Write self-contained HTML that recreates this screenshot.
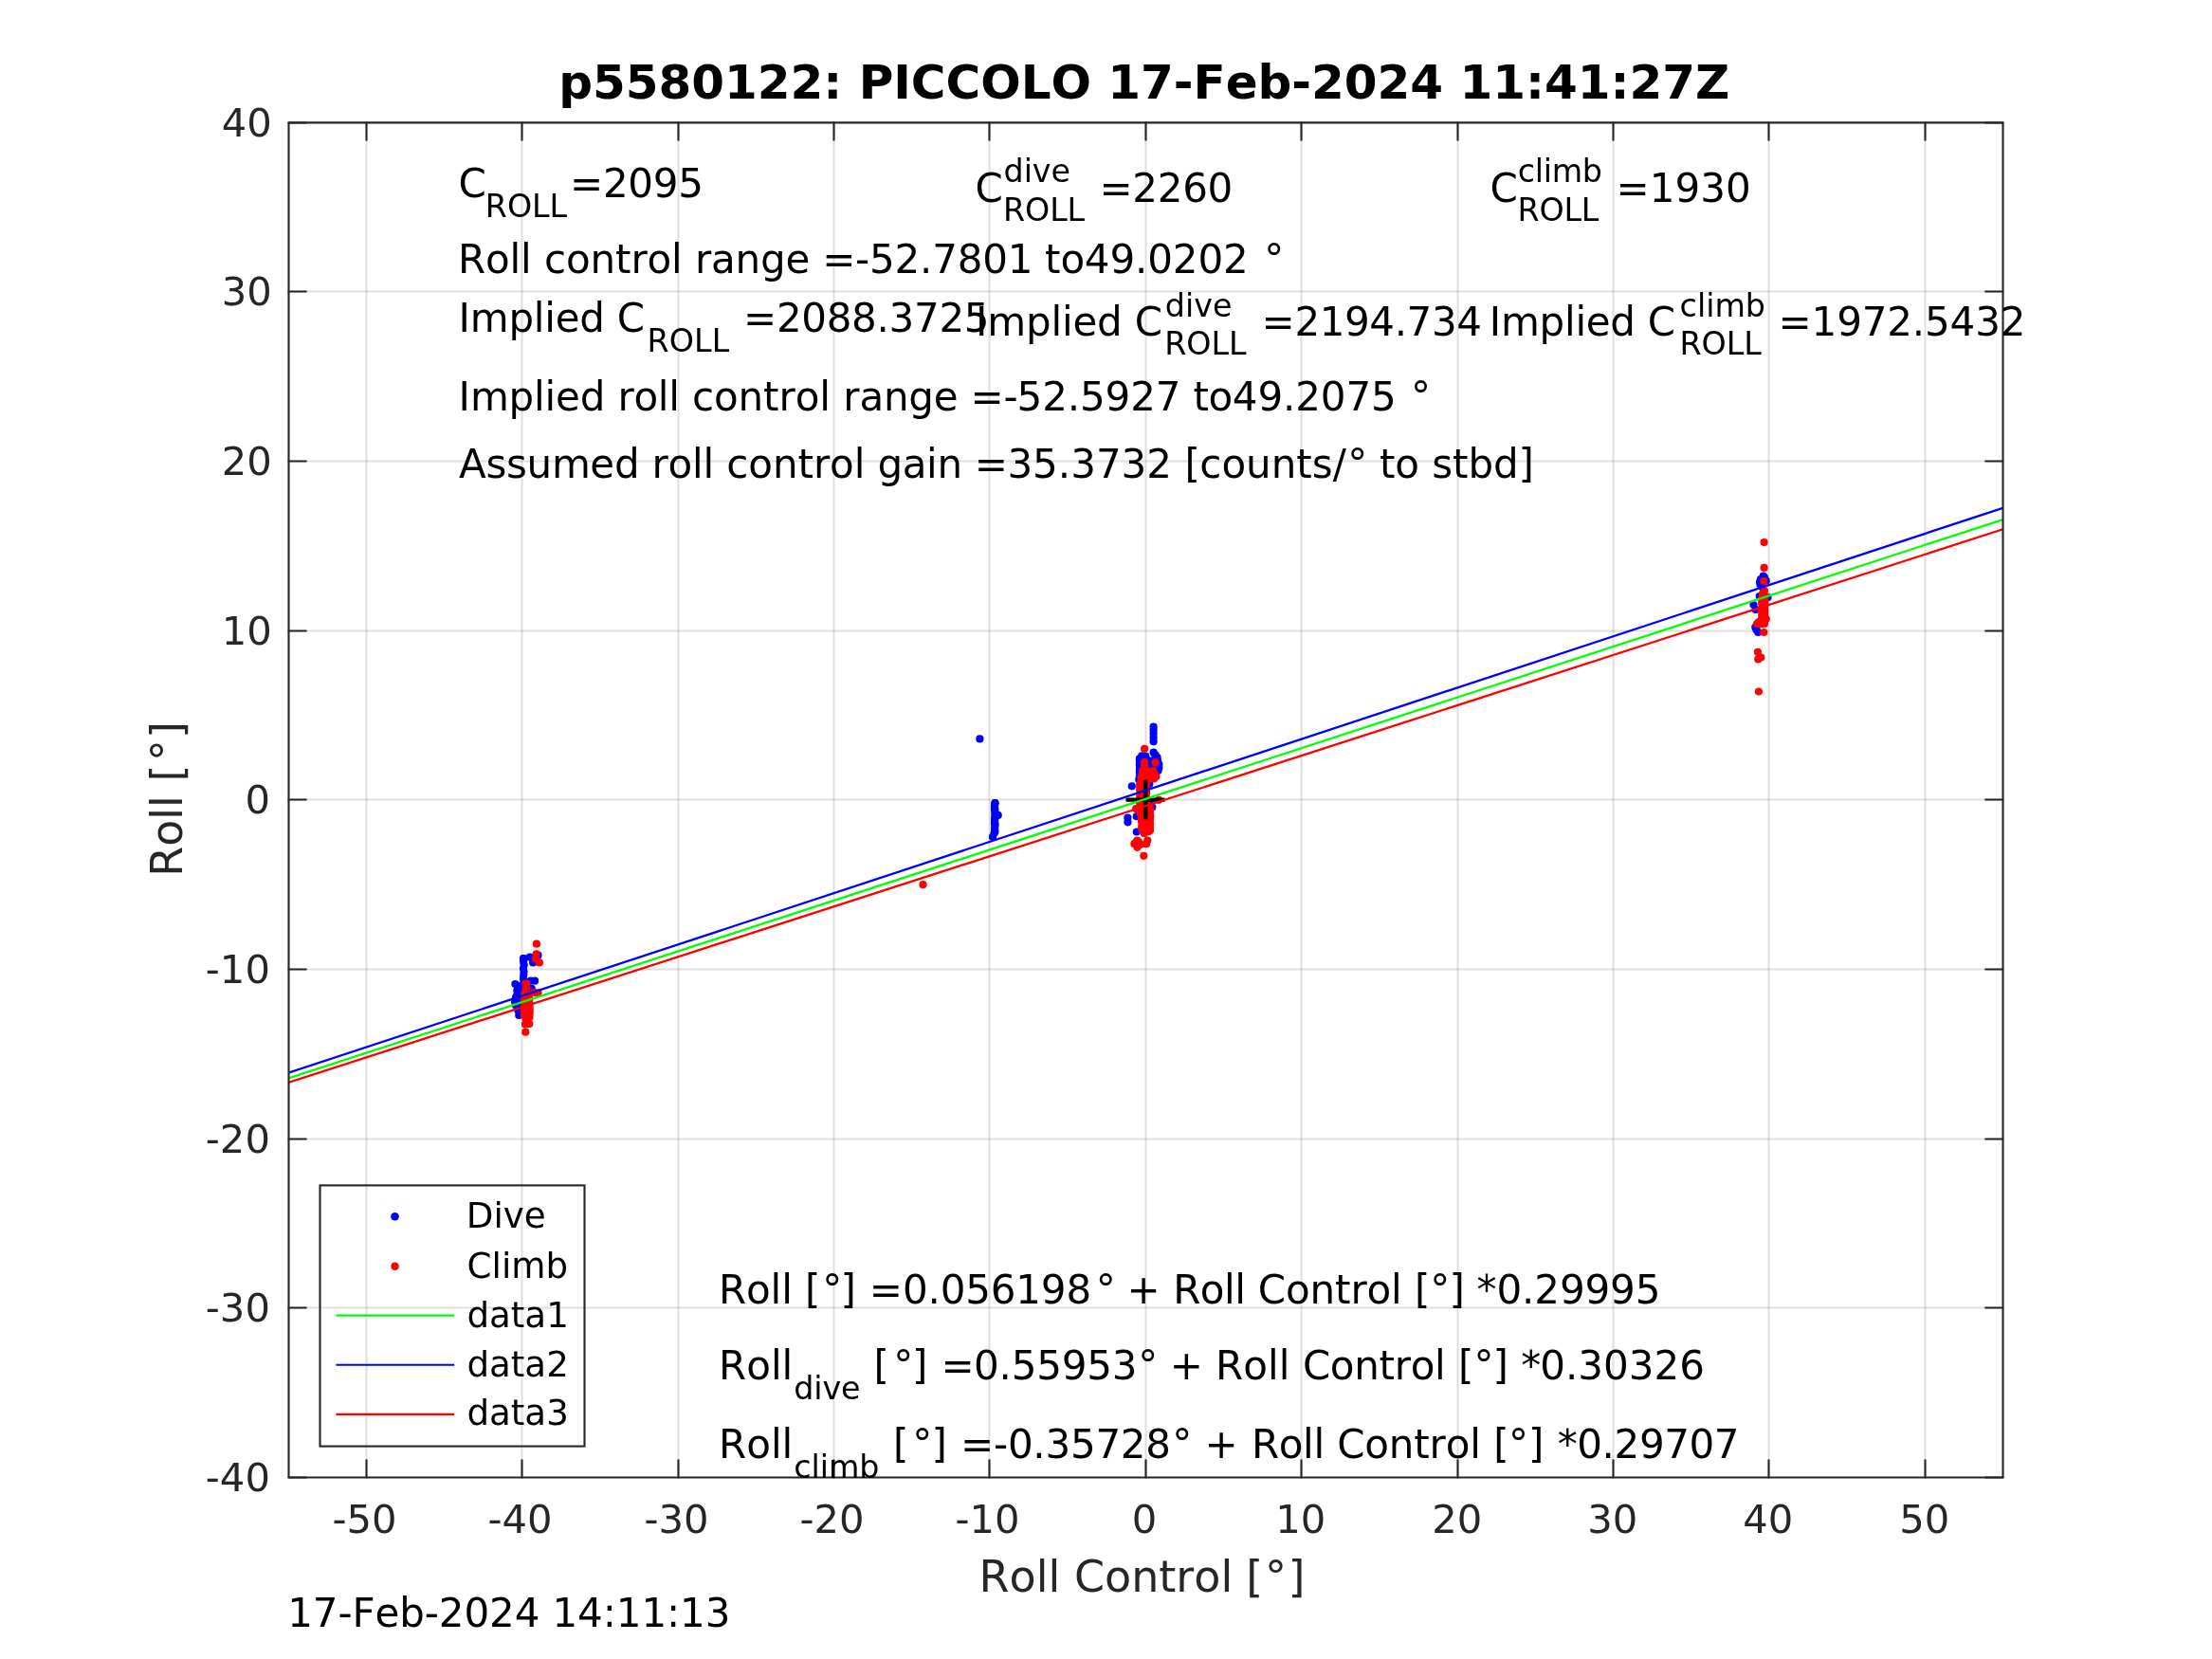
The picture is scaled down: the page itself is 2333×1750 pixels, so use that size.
<!DOCTYPE html>
<html lang="en"><head><meta charset="utf-8"><title>p5580122: PICCOLO roll regression</title>
<style>html,body{margin:0;padding:0;background:#fff}svg{display:block;will-change:transform}text{font-family:"DejaVu Sans","Liberation Sans",sans-serif;white-space:pre;font-kerning:none;font-variant-ligatures:none}</style>
</head><body>
<svg width="2333" height="1750" viewBox="0 0 2333 1750">
<rect width="2333" height="1750" fill="#fff"/>
<defs><clipPath id="ax"><rect x="304.5" y="129.4" width="1808.0" height="1429.1"/></clipPath></defs>
<g stroke="#262626" stroke-opacity="0.15" stroke-width="2.1" fill="none">
<line x1="386.5" y1="129.4" x2="386.5" y2="1558.5"/>
<line x1="550.5" y1="129.4" x2="550.5" y2="1558.5"/>
<line x1="715.5" y1="129.4" x2="715.5" y2="1558.5"/>
<line x1="879.5" y1="129.4" x2="879.5" y2="1558.5"/>
<line x1="1043.5" y1="129.4" x2="1043.5" y2="1558.5"/>
<line x1="1208.5" y1="129.4" x2="1208.5" y2="1558.5"/>
<line x1="1372.5" y1="129.4" x2="1372.5" y2="1558.5"/>
<line x1="1537.5" y1="129.4" x2="1537.5" y2="1558.5"/>
<line x1="1701.5" y1="129.4" x2="1701.5" y2="1558.5"/>
<line x1="1865.5" y1="129.4" x2="1865.5" y2="1558.5"/>
<line x1="2030.5" y1="129.4" x2="2030.5" y2="1558.5"/>
<line x1="304.5" y1="1379.5" x2="2112.5" y2="1379.5"/>
<line x1="304.5" y1="1201.5" x2="2112.5" y2="1201.5"/>
<line x1="304.5" y1="1022.5" x2="2112.5" y2="1022.5"/>
<line x1="304.5" y1="843.5" x2="2112.5" y2="843.5"/>
<line x1="304.5" y1="665.5" x2="2112.5" y2="665.5"/>
<line x1="304.5" y1="486.5" x2="2112.5" y2="486.5"/>
<line x1="304.5" y1="307.5" x2="2112.5" y2="307.5"/>
</g>
<g clip-path="url(#ax)">
<g fill="#0000ff">
<circle cx="552.0" cy="1011.0" r="4.1"/>
<circle cx="558.8" cy="1009.7" r="4.1"/>
<circle cx="567.5" cy="1007.7" r="4.1"/>
<circle cx="562.2" cy="1015.4" r="4.1"/>
<circle cx="564.1" cy="1034.7" r="4.1"/>
<circle cx="559.8" cy="1034.7" r="4.1"/>
<circle cx="543.4" cy="1038.1" r="4.1"/>
<circle cx="545.3" cy="1044.9" r="4.1"/>
<circle cx="560.7" cy="1042.9" r="4.1"/>
<circle cx="547.3" cy="1070.9" r="4.1"/>
<circle cx="546.5" cy="1066.0" r="4.1"/>
<circle cx="552.3" cy="1011.0" r="4.1"/>
<circle cx="552.1" cy="1014.5" r="4.1"/>
<circle cx="552.7" cy="1018.0" r="4.1"/>
<circle cx="552.0" cy="1021.5" r="4.1"/>
<circle cx="552.5" cy="1025.0" r="4.1"/>
<circle cx="552.3" cy="1028.5" r="4.1"/>
<circle cx="552.0" cy="1032.0" r="4.1"/>
<circle cx="552.5" cy="1035.5" r="4.1"/>
<circle cx="543.7" cy="1057.2" r="4.1"/>
<circle cx="543.9" cy="1053.1" r="4.1"/>
<circle cx="546.0" cy="1061.9" r="4.1"/>
<circle cx="544.2" cy="1054.7" r="4.1"/>
<circle cx="547.3" cy="1063.4" r="4.1"/>
<circle cx="547.0" cy="1056.8" r="4.1"/>
<circle cx="549.4" cy="1052.6" r="4.1"/>
<circle cx="548.7" cy="1055.5" r="4.1"/>
<circle cx="544.4" cy="1053.4" r="4.1"/>
<circle cx="545.4" cy="1061.8" r="4.1"/>
<circle cx="544.6" cy="1059.0" r="4.1"/>
<circle cx="547.3" cy="1056.5" r="4.1"/>
<circle cx="546.8" cy="1052.8" r="4.1"/>
<circle cx="543.9" cy="1054.5" r="4.1"/>
<circle cx="547.6" cy="1057.1" r="4.1"/>
<circle cx="545.4" cy="1059.0" r="4.1"/>
<circle cx="546.2" cy="1055.6" r="4.1"/>
<circle cx="548.3" cy="1060.4" r="4.1"/>
<circle cx="545.0" cy="1058.9" r="4.1"/>
<circle cx="546.7" cy="1062.5" r="4.1"/>
<circle cx="547.9" cy="1055.5" r="4.1"/>
<circle cx="549.4" cy="1053.4" r="4.1"/>
<circle cx="546.0" cy="1061.1" r="4.1"/>
<circle cx="544.4" cy="1057.9" r="4.1"/>
<circle cx="543.7" cy="1060.0" r="4.1"/>
<circle cx="543.2" cy="1056.4" r="4.1"/>
<circle cx="544.5" cy="1051.0" r="4.1"/>
<circle cx="546.0" cy="1061.0" r="4.1"/>
<circle cx="549.0" cy="1047.0" r="4.1"/>
<circle cx="548.0" cy="1040.0" r="4.1"/>
<circle cx="1033.4" cy="779.4" r="4.1"/>
<circle cx="1049.5" cy="847.2" r="4.1"/>
<circle cx="1048.9" cy="853.8" r="4.1"/>
<circle cx="1052.7" cy="859.9" r="4.1"/>
<circle cx="1049.1" cy="863.9" r="4.1"/>
<circle cx="1049.5" cy="869.0" r="4.1"/>
<circle cx="1049.1" cy="875.9" r="4.1"/>
<circle cx="1048.6" cy="879.1" r="4.1"/>
<circle cx="1047.0" cy="882.9" r="4.1"/>
<circle cx="1049.4" cy="847.2" r="4.1"/>
<circle cx="1049.0" cy="850.2" r="4.1"/>
<circle cx="1049.3" cy="853.2" r="4.1"/>
<circle cx="1049.4" cy="856.2" r="4.1"/>
<circle cx="1049.4" cy="859.2" r="4.1"/>
<circle cx="1049.4" cy="862.2" r="4.1"/>
<circle cx="1049.2" cy="865.2" r="4.1"/>
<circle cx="1049.0" cy="868.2" r="4.1"/>
<circle cx="1049.4" cy="871.2" r="4.1"/>
<circle cx="1049.1" cy="874.2" r="4.1"/>
<circle cx="1049.4" cy="877.2" r="4.1"/>
<circle cx="1216.6" cy="766.5" r="4.1"/>
<circle cx="1216.6" cy="773.8" r="4.1"/>
<circle cx="1216.6" cy="778.0" r="4.1"/>
<circle cx="1216.6" cy="782.2" r="4.1"/>
<circle cx="1216.6" cy="793.7" r="4.1"/>
<circle cx="1220.6" cy="799.1" r="4.1"/>
<circle cx="1222.4" cy="806.3" r="4.1"/>
<circle cx="1222.4" cy="810.0" r="4.1"/>
<circle cx="1201.9" cy="800.3" r="4.1"/>
<circle cx="1201.9" cy="807.5" r="4.1"/>
<circle cx="1201.9" cy="814.8" r="4.1"/>
<circle cx="1201.3" cy="822.0" r="4.1"/>
<circle cx="1193.8" cy="829.3" r="4.1"/>
<circle cx="1189.4" cy="862.7" r="4.1"/>
<circle cx="1189.4" cy="867.3" r="4.1"/>
<circle cx="1198.8" cy="861.2" r="4.1"/>
<circle cx="1198.8" cy="877.5" r="4.1"/>
<circle cx="1212.3" cy="827.1" r="4.1"/>
<circle cx="1212.8" cy="846.6" r="4.1"/>
<circle cx="1215.3" cy="851.5" r="4.1"/>
<circle cx="1216.6" cy="770.0" r="4.1"/>
<circle cx="1218.5" cy="796.5" r="4.1"/>
<circle cx="1221.0" cy="802.5" r="4.1"/>
<circle cx="1221.5" cy="813.0" r="4.1"/>
<circle cx="1212.7" cy="807.7" r="4.1"/>
<circle cx="1207.0" cy="822.6" r="4.1"/>
<circle cx="1210.2" cy="801.6" r="4.1"/>
<circle cx="1204.3" cy="801.1" r="4.1"/>
<circle cx="1212.0" cy="818.8" r="4.1"/>
<circle cx="1204.5" cy="819.3" r="4.1"/>
<circle cx="1212.8" cy="814.7" r="4.1"/>
<circle cx="1206.5" cy="811.8" r="4.1"/>
<circle cx="1204.3" cy="797.4" r="4.1"/>
<circle cx="1212.7" cy="814.5" r="4.1"/>
<circle cx="1208.3" cy="822.2" r="4.1"/>
<circle cx="1207.3" cy="820.5" r="4.1"/>
<circle cx="1211.3" cy="802.7" r="4.1"/>
<circle cx="1205.5" cy="804.9" r="4.1"/>
<circle cx="1205.4" cy="812.8" r="4.1"/>
<circle cx="1205.6" cy="808.3" r="4.1"/>
<circle cx="1204.3" cy="821.6" r="4.1"/>
<circle cx="1206.5" cy="809.4" r="4.1"/>
<circle cx="1208.8" cy="821.4" r="4.1"/>
<circle cx="1207.2" cy="821.8" r="4.1"/>
<circle cx="1208.0" cy="811.4" r="4.1"/>
<circle cx="1208.2" cy="797.5" r="4.1"/>
<circle cx="1207.4" cy="801.9" r="4.1"/>
<circle cx="1203.0" cy="818.6" r="4.1"/>
<circle cx="1204.7" cy="809.8" r="4.1"/>
<circle cx="1210.3" cy="812.0" r="4.1"/>
<circle cx="1206.3" cy="811.0" r="4.1"/>
<circle cx="1208.6" cy="818.2" r="4.1"/>
<circle cx="1204.1" cy="812.1" r="4.1"/>
<circle cx="1205.5" cy="804.5" r="4.1"/>
<circle cx="1210.7" cy="810.7" r="4.1"/>
<circle cx="1208.6" cy="817.5" r="4.1"/>
<circle cx="1212.1" cy="809.0" r="4.1"/>
<circle cx="1209.1" cy="810.6" r="4.1"/>
<circle cx="1208.1" cy="815.7" r="4.1"/>
<circle cx="1207.5" cy="811.4" r="4.1"/>
<circle cx="1207.8" cy="822.4" r="4.1"/>
<circle cx="1210.0" cy="820.7" r="4.1"/>
<circle cx="1212.4" cy="804.0" r="4.1"/>
<circle cx="1208.6" cy="822.5" r="4.1"/>
<circle cx="1202.5" cy="800.0" r="4.1"/>
<circle cx="1201.9" cy="803.0" r="4.1"/>
<circle cx="1201.9" cy="806.0" r="4.1"/>
<circle cx="1202.2" cy="809.0" r="4.1"/>
<circle cx="1201.9" cy="812.0" r="4.1"/>
<circle cx="1202.0" cy="815.0" r="4.1"/>
<circle cx="1201.9" cy="818.0" r="4.1"/>
<circle cx="1202.3" cy="821.0" r="4.1"/>
<circle cx="1202.4" cy="824.0" r="4.1"/>
<circle cx="1218.9" cy="797.0" r="4.1"/>
<circle cx="1218.2" cy="800.0" r="4.1"/>
<circle cx="1218.7" cy="803.0" r="4.1"/>
<circle cx="1218.7" cy="806.0" r="4.1"/>
<circle cx="1218.1" cy="809.0" r="4.1"/>
<circle cx="1218.9" cy="812.0" r="4.1"/>
<circle cx="1859.7" cy="607.7" r="4.1"/>
<circle cx="1856.1" cy="613.9" r="4.1"/>
<circle cx="1862.7" cy="612.7" r="4.1"/>
<circle cx="1857.9" cy="618.8" r="4.1"/>
<circle cx="1855.7" cy="629.0" r="4.1"/>
<circle cx="1849.5" cy="638.1" r="4.1"/>
<circle cx="1851.6" cy="642.9" r="4.1"/>
<circle cx="1851.3" cy="661.6" r="4.1"/>
<circle cx="1854.3" cy="667.0" r="4.1"/>
<circle cx="1864.5" cy="630.2" r="4.1"/>
<circle cx="1857.0" cy="611.0" r="4.1"/>
<circle cx="1861.0" cy="609.0" r="4.1"/>
<circle cx="1856.5" cy="616.5" r="4.1"/>
<circle cx="1852.5" cy="664.5" r="4.1"/>
</g><g fill="#ff0000">
<circle cx="565.9" cy="995.7" r="4.1"/>
<circle cx="565.6" cy="1006.3" r="4.1"/>
<circle cx="564.8" cy="1011.6" r="4.1"/>
<circle cx="568.9" cy="1015.4" r="4.1"/>
<circle cx="554.5" cy="1037.6" r="4.1"/>
<circle cx="567.5" cy="1047.3" r="4.1"/>
<circle cx="563.7" cy="1046.8" r="4.1"/>
<circle cx="554.0" cy="1080.5" r="4.1"/>
<circle cx="558.3" cy="1080.0" r="4.1"/>
<circle cx="554.3" cy="1088.7" r="4.1"/>
<circle cx="555.1" cy="1037.6" r="4.1"/>
<circle cx="554.9" cy="1040.6" r="4.1"/>
<circle cx="555.2" cy="1043.6" r="4.1"/>
<circle cx="554.6" cy="1046.6" r="4.1"/>
<circle cx="555.0" cy="1049.6" r="4.1"/>
<circle cx="556.2" cy="1061.9" r="4.1"/>
<circle cx="555.5" cy="1068.2" r="4.1"/>
<circle cx="557.9" cy="1059.4" r="4.1"/>
<circle cx="556.5" cy="1049.5" r="4.1"/>
<circle cx="556.7" cy="1063.5" r="4.1"/>
<circle cx="558.2" cy="1067.7" r="4.1"/>
<circle cx="554.6" cy="1057.3" r="4.1"/>
<circle cx="556.5" cy="1048.5" r="4.1"/>
<circle cx="555.5" cy="1052.0" r="4.1"/>
<circle cx="553.8" cy="1049.4" r="4.1"/>
<circle cx="557.0" cy="1051.1" r="4.1"/>
<circle cx="554.4" cy="1057.4" r="4.1"/>
<circle cx="557.6" cy="1049.9" r="4.1"/>
<circle cx="555.4" cy="1061.2" r="4.1"/>
<circle cx="557.6" cy="1067.7" r="4.1"/>
<circle cx="557.5" cy="1054.7" r="4.1"/>
<circle cx="555.3" cy="1056.6" r="4.1"/>
<circle cx="557.6" cy="1071.0" r="4.1"/>
<circle cx="554.0" cy="1052.2" r="4.1"/>
<circle cx="554.4" cy="1053.6" r="4.1"/>
<circle cx="555.6" cy="1062.1" r="4.1"/>
<circle cx="554.5" cy="1048.1" r="4.1"/>
<circle cx="555.3" cy="1056.9" r="4.1"/>
<circle cx="556.0" cy="1070.9" r="4.1"/>
<circle cx="556.7" cy="1060.4" r="4.1"/>
<circle cx="556.3" cy="1064.2" r="4.1"/>
<circle cx="553.5" cy="1069.6" r="4.1"/>
<circle cx="557.1" cy="1069.0" r="4.1"/>
<circle cx="557.2" cy="1057.4" r="4.1"/>
<circle cx="555.2" cy="1050.5" r="4.1"/>
<circle cx="556.4" cy="1049.5" r="4.1"/>
<circle cx="553.5" cy="1053.0" r="4.1"/>
<circle cx="554.0" cy="1056.2" r="4.1"/>
<circle cx="553.5" cy="1048.0" r="4.1"/>
<circle cx="554.0" cy="1050.4" r="4.1"/>
<circle cx="555.0" cy="1048.6" r="4.1"/>
<circle cx="557.6" cy="1062.7" r="4.1"/>
<circle cx="553.9" cy="1054.1" r="4.1"/>
<circle cx="554.9" cy="1056.7" r="4.1"/>
<circle cx="553.8" cy="1068.4" r="4.1"/>
<circle cx="558.2" cy="1059.2" r="4.1"/>
<circle cx="555.6" cy="1050.1" r="4.1"/>
<circle cx="553.7" cy="1056.2" r="4.1"/>
<circle cx="554.5" cy="1067.9" r="4.1"/>
<circle cx="554.0" cy="1048.6" r="4.1"/>
<circle cx="558.0" cy="1060.7" r="4.1"/>
<circle cx="553.9" cy="1061.0" r="4.1"/>
<circle cx="553.3" cy="1060.7" r="4.1"/>
<circle cx="558.1" cy="1068.7" r="4.1"/>
<circle cx="556.7" cy="1054.3" r="4.1"/>
<circle cx="555.0" cy="1052.0" r="4.1"/>
<circle cx="557.1" cy="1060.8" r="4.1"/>
<circle cx="557.1" cy="1055.9" r="4.1"/>
<circle cx="554.3" cy="1067.5" r="4.1"/>
<circle cx="558.1" cy="1068.5" r="4.1"/>
<circle cx="557.2" cy="1067.6" r="4.1"/>
<circle cx="556.9" cy="1053.4" r="4.1"/>
<circle cx="555.8" cy="1056.5" r="4.1"/>
<circle cx="553.3" cy="1048.7" r="4.1"/>
<circle cx="554.6" cy="1054.2" r="4.1"/>
<circle cx="553.1" cy="1050.0" r="4.1"/>
<circle cx="553.3" cy="1053.0" r="4.1"/>
<circle cx="553.0" cy="1056.0" r="4.1"/>
<circle cx="553.3" cy="1059.0" r="4.1"/>
<circle cx="553.3" cy="1062.0" r="4.1"/>
<circle cx="553.3" cy="1065.0" r="4.1"/>
<circle cx="552.9" cy="1068.0" r="4.1"/>
<circle cx="552.8" cy="1071.0" r="4.1"/>
<circle cx="558.2" cy="1052.0" r="4.1"/>
<circle cx="558.2" cy="1055.0" r="4.1"/>
<circle cx="558.2" cy="1058.0" r="4.1"/>
<circle cx="558.5" cy="1061.0" r="4.1"/>
<circle cx="558.6" cy="1064.0" r="4.1"/>
<circle cx="558.6" cy="1067.0" r="4.1"/>
<circle cx="558.4" cy="1070.0" r="4.1"/>
<circle cx="558.5" cy="1073.0" r="4.1"/>
<circle cx="556.0" cy="1076.0" r="4.1"/>
<circle cx="554.5" cy="1075.0" r="4.1"/>
<circle cx="973.5" cy="933.2" r="4.1"/>
<circle cx="1207.1" cy="789.8" r="4.1"/>
<circle cx="1207.1" cy="803.9" r="4.1"/>
<circle cx="1218.5" cy="804.3" r="4.1"/>
<circle cx="1207.1" cy="808.8" r="4.1"/>
<circle cx="1216.3" cy="813.0" r="4.1"/>
<circle cx="1219.4" cy="819.0" r="4.1"/>
<circle cx="1217.0" cy="821.4" r="4.1"/>
<circle cx="1222.2" cy="843.8" r="4.1"/>
<circle cx="1198.2" cy="853.1" r="4.1"/>
<circle cx="1199.5" cy="886.6" r="4.1"/>
<circle cx="1196.4" cy="890.2" r="4.1"/>
<circle cx="1199.5" cy="893.8" r="4.1"/>
<circle cx="1203.1" cy="890.8" r="4.1"/>
<circle cx="1210.3" cy="886.6" r="4.1"/>
<circle cx="1209.1" cy="890.2" r="4.1"/>
<circle cx="1206.3" cy="902.8" r="4.1"/>
<circle cx="1212.7" cy="876.3" r="4.1"/>
<circle cx="1206.7" cy="878.7" r="4.1"/>
<circle cx="1201.0" cy="888.0" r="4.1"/>
<circle cx="1198.0" cy="888.5" r="4.1"/>
<circle cx="1217.5" cy="816.0" r="4.1"/>
<circle cx="1218.2" cy="818.0" r="4.1"/>
<circle cx="1207.2" cy="806.5" r="4.1"/>
<circle cx="1207.2" cy="812.0" r="4.1"/>
<circle cx="1210.3" cy="815.1" r="4.1"/>
<circle cx="1210.2" cy="817.6" r="4.1"/>
<circle cx="1206.9" cy="825.9" r="4.1"/>
<circle cx="1209.3" cy="814.3" r="4.1"/>
<circle cx="1206.5" cy="819.2" r="4.1"/>
<circle cx="1205.9" cy="814.7" r="4.1"/>
<circle cx="1205.7" cy="822.1" r="4.1"/>
<circle cx="1203.6" cy="819.8" r="4.1"/>
<circle cx="1206.6" cy="812.3" r="4.1"/>
<circle cx="1205.8" cy="820.7" r="4.1"/>
<circle cx="1207.1" cy="812.9" r="4.1"/>
<circle cx="1210.4" cy="823.0" r="4.1"/>
<circle cx="1210.3" cy="813.5" r="4.1"/>
<circle cx="1205.4" cy="812.6" r="4.1"/>
<circle cx="1209.0" cy="815.8" r="4.1"/>
<circle cx="1204.4" cy="817.9" r="4.1"/>
<circle cx="1209.9" cy="823.5" r="4.1"/>
<circle cx="1205.3" cy="814.1" r="4.1"/>
<circle cx="1209.9" cy="820.0" r="4.1"/>
<circle cx="1208.4" cy="813.3" r="4.1"/>
<circle cx="1203.9" cy="821.6" r="4.1"/>
<circle cx="1206.5" cy="813.0" r="4.1"/>
<circle cx="1210.1" cy="820.9" r="4.1"/>
<circle cx="1209.1" cy="813.2" r="4.1"/>
<circle cx="1209.5" cy="812.9" r="4.1"/>
<circle cx="1209.5" cy="818.4" r="4.1"/>
<circle cx="1205.9" cy="819.7" r="4.1"/>
<circle cx="1210.0" cy="815.8" r="4.1"/>
<circle cx="1204.4" cy="819.4" r="4.1"/>
<circle cx="1205.2" cy="813.5" r="4.1"/>
<circle cx="1203.5" cy="827.2" r="4.1"/>
<circle cx="1203.8" cy="833.5" r="4.1"/>
<circle cx="1204.5" cy="844.2" r="4.1"/>
<circle cx="1204.4" cy="838.0" r="4.1"/>
<circle cx="1203.7" cy="834.3" r="4.1"/>
<circle cx="1202.6" cy="832.0" r="4.1"/>
<circle cx="1202.6" cy="843.6" r="4.1"/>
<circle cx="1206.1" cy="830.5" r="4.1"/>
<circle cx="1205.6" cy="848.4" r="4.1"/>
<circle cx="1203.2" cy="845.7" r="4.1"/>
<circle cx="1205.3" cy="837.9" r="4.1"/>
<circle cx="1207.9" cy="835.4" r="4.1"/>
<circle cx="1205.8" cy="842.5" r="4.1"/>
<circle cx="1208.9" cy="834.2" r="4.1"/>
<circle cx="1207.9" cy="843.0" r="4.1"/>
<circle cx="1206.6" cy="835.7" r="4.1"/>
<circle cx="1204.8" cy="827.3" r="4.1"/>
<circle cx="1203.3" cy="827.7" r="4.1"/>
<circle cx="1207.3" cy="832.1" r="4.1"/>
<circle cx="1203.6" cy="828.0" r="4.1"/>
<circle cx="1208.0" cy="846.9" r="4.1"/>
<circle cx="1206.9" cy="832.8" r="4.1"/>
<circle cx="1204.1" cy="833.0" r="4.1"/>
<circle cx="1205.5" cy="829.8" r="4.1"/>
<circle cx="1205.4" cy="832.3" r="4.1"/>
<circle cx="1208.8" cy="849.3" r="4.1"/>
<circle cx="1206.1" cy="831.9" r="4.1"/>
<circle cx="1208.8" cy="833.4" r="4.1"/>
<circle cx="1204.8" cy="826.0" r="4.1"/>
<circle cx="1205.0" cy="837.4" r="4.1"/>
<circle cx="1205.8" cy="830.8" r="4.1"/>
<circle cx="1205.8" cy="826.1" r="4.1"/>
<circle cx="1204.2" cy="828.2" r="4.1"/>
<circle cx="1205.1" cy="827.0" r="4.1"/>
<circle cx="1202.6" cy="833.3" r="4.1"/>
<circle cx="1204.0" cy="840.1" r="4.1"/>
<circle cx="1205.9" cy="844.0" r="4.1"/>
<circle cx="1206.8" cy="843.2" r="4.1"/>
<circle cx="1208.2" cy="835.3" r="4.1"/>
<circle cx="1204.6" cy="849.6" r="4.1"/>
<circle cx="1203.5" cy="843.4" r="4.1"/>
<circle cx="1206.7" cy="827.1" r="4.1"/>
<circle cx="1207.9" cy="847.4" r="4.1"/>
<circle cx="1206.6" cy="843.6" r="4.1"/>
<circle cx="1207.8" cy="829.3" r="4.1"/>
<circle cx="1205.9" cy="838.1" r="4.1"/>
<circle cx="1207.9" cy="845.3" r="4.1"/>
<circle cx="1207.9" cy="840.0" r="4.1"/>
<circle cx="1208.3" cy="842.4" r="4.1"/>
<circle cx="1207.0" cy="831.5" r="4.1"/>
<circle cx="1202.7" cy="829.2" r="4.1"/>
<circle cx="1204.8" cy="828.5" r="4.1"/>
<circle cx="1207.9" cy="839.4" r="4.1"/>
<circle cx="1206.6" cy="841.0" r="4.1"/>
<circle cx="1206.9" cy="837.7" r="4.1"/>
<circle cx="1202.5" cy="845.1" r="4.1"/>
<circle cx="1207.4" cy="838.1" r="4.1"/>
<circle cx="1206.0" cy="841.8" r="4.1"/>
<circle cx="1202.9" cy="843.7" r="4.1"/>
<circle cx="1204.1" cy="827.8" r="4.1"/>
<circle cx="1204.2" cy="843.5" r="4.1"/>
<circle cx="1203.8" cy="843.8" r="4.1"/>
<circle cx="1208.8" cy="837.9" r="4.1"/>
<circle cx="1205.0" cy="837.5" r="4.1"/>
<circle cx="1206.9" cy="844.4" r="4.1"/>
<circle cx="1206.5" cy="841.4" r="4.1"/>
<circle cx="1203.0" cy="829.5" r="4.1"/>
<circle cx="1204.2" cy="843.8" r="4.1"/>
<circle cx="1204.5" cy="839.6" r="4.1"/>
<circle cx="1202.6" cy="827.5" r="4.1"/>
<circle cx="1202.3" cy="828.0" r="4.1"/>
<circle cx="1202.5" cy="831.0" r="4.1"/>
<circle cx="1202.5" cy="834.0" r="4.1"/>
<circle cx="1202.5" cy="837.0" r="4.1"/>
<circle cx="1202.3" cy="840.0" r="4.1"/>
<circle cx="1202.4" cy="843.0" r="4.1"/>
<circle cx="1202.4" cy="846.0" r="4.1"/>
<circle cx="1202.4" cy="849.0" r="4.1"/>
<circle cx="1202.2" cy="852.0" r="4.1"/>
<circle cx="1208.8" cy="814.0" r="4.1"/>
<circle cx="1208.4" cy="817.0" r="4.1"/>
<circle cx="1208.9" cy="820.0" r="4.1"/>
<circle cx="1208.9" cy="823.0" r="4.1"/>
<circle cx="1208.3" cy="826.0" r="4.1"/>
<circle cx="1208.6" cy="829.0" r="4.1"/>
<circle cx="1208.8" cy="832.0" r="4.1"/>
<circle cx="1208.9" cy="835.0" r="4.1"/>
<circle cx="1208.6" cy="838.0" r="4.1"/>
<circle cx="1208.5" cy="841.0" r="4.1"/>
<circle cx="1208.4" cy="844.0" r="4.1"/>
<circle cx="1212.3" cy="855.5" r="4.1"/>
<circle cx="1209.3" cy="853.7" r="4.1"/>
<circle cx="1208.8" cy="874.8" r="4.1"/>
<circle cx="1205.6" cy="871.3" r="4.1"/>
<circle cx="1208.7" cy="873.1" r="4.1"/>
<circle cx="1210.3" cy="856.0" r="4.1"/>
<circle cx="1212.0" cy="862.6" r="4.1"/>
<circle cx="1204.7" cy="850.1" r="4.1"/>
<circle cx="1208.6" cy="861.7" r="4.1"/>
<circle cx="1207.0" cy="853.7" r="4.1"/>
<circle cx="1207.4" cy="858.2" r="4.1"/>
<circle cx="1211.5" cy="850.0" r="4.1"/>
<circle cx="1210.7" cy="871.8" r="4.1"/>
<circle cx="1205.5" cy="874.1" r="4.1"/>
<circle cx="1210.4" cy="873.4" r="4.1"/>
<circle cx="1206.9" cy="859.7" r="4.1"/>
<circle cx="1207.8" cy="876.0" r="4.1"/>
<circle cx="1209.4" cy="859.4" r="4.1"/>
<circle cx="1208.1" cy="857.2" r="4.1"/>
<circle cx="1204.9" cy="852.6" r="4.1"/>
<circle cx="1211.4" cy="857.4" r="4.1"/>
<circle cx="1212.3" cy="856.5" r="4.1"/>
<circle cx="1206.7" cy="863.3" r="4.1"/>
<circle cx="1206.1" cy="859.7" r="4.1"/>
<circle cx="1212.4" cy="873.0" r="4.1"/>
<circle cx="1211.2" cy="866.4" r="4.1"/>
<circle cx="1212.1" cy="874.5" r="4.1"/>
<circle cx="1209.1" cy="868.7" r="4.1"/>
<circle cx="1204.9" cy="869.0" r="4.1"/>
<circle cx="1208.2" cy="869.6" r="4.1"/>
<circle cx="1209.8" cy="857.4" r="4.1"/>
<circle cx="1204.9" cy="874.1" r="4.1"/>
<circle cx="1205.6" cy="862.3" r="4.1"/>
<circle cx="1207.4" cy="857.7" r="4.1"/>
<circle cx="1210.6" cy="875.4" r="4.1"/>
<circle cx="1206.7" cy="867.1" r="4.1"/>
<circle cx="1207.0" cy="864.5" r="4.1"/>
<circle cx="1207.8" cy="854.4" r="4.1"/>
<circle cx="1205.8" cy="855.4" r="4.1"/>
<circle cx="1212.0" cy="862.9" r="4.1"/>
<circle cx="1206.3" cy="873.6" r="4.1"/>
<circle cx="1212.8" cy="861.7" r="4.1"/>
<circle cx="1205.7" cy="855.0" r="4.1"/>
<circle cx="1205.3" cy="858.9" r="4.1"/>
<circle cx="1205.3" cy="856.2" r="4.1"/>
<circle cx="1206.6" cy="864.8" r="4.1"/>
<circle cx="1211.9" cy="869.5" r="4.1"/>
<circle cx="1207.9" cy="860.8" r="4.1"/>
<circle cx="1208.9" cy="859.8" r="4.1"/>
<circle cx="1207.3" cy="851.6" r="4.1"/>
<circle cx="1206.8" cy="875.2" r="4.1"/>
<circle cx="1205.5" cy="863.1" r="4.1"/>
<circle cx="1209.7" cy="872.4" r="4.1"/>
<circle cx="1206.3" cy="857.0" r="4.1"/>
<circle cx="1206.6" cy="860.4" r="4.1"/>
<circle cx="1208.2" cy="874.8" r="4.1"/>
<circle cx="1211.5" cy="872.7" r="4.1"/>
<circle cx="1204.7" cy="850.8" r="4.1"/>
<circle cx="1210.4" cy="873.3" r="4.1"/>
<circle cx="1208.4" cy="865.3" r="4.1"/>
<circle cx="1204.5" cy="860.2" r="4.1"/>
<circle cx="1212.2" cy="871.5" r="4.1"/>
<circle cx="1211.6" cy="875.3" r="4.1"/>
<circle cx="1206.6" cy="852.8" r="4.1"/>
<circle cx="1205.8" cy="863.6" r="4.1"/>
<circle cx="1210.2" cy="874.5" r="4.1"/>
<circle cx="1210.5" cy="866.8" r="4.1"/>
<circle cx="1210.8" cy="861.9" r="4.1"/>
<circle cx="1209.1" cy="851.0" r="4.1"/>
<circle cx="1211.0" cy="856.0" r="4.1"/>
<circle cx="1212.1" cy="866.8" r="4.1"/>
<circle cx="1207.0" cy="853.3" r="4.1"/>
<circle cx="1206.6" cy="866.5" r="4.1"/>
<circle cx="1210.3" cy="852.9" r="4.1"/>
<circle cx="1205.1" cy="863.6" r="4.1"/>
<circle cx="1209.3" cy="860.1" r="4.1"/>
<circle cx="1206.4" cy="865.6" r="4.1"/>
<circle cx="1204.6" cy="857.8" r="4.1"/>
<circle cx="1208.3" cy="874.9" r="4.1"/>
<circle cx="1209.8" cy="873.0" r="4.1"/>
<circle cx="1208.4" cy="856.1" r="4.1"/>
<circle cx="1206.6" cy="875.0" r="4.1"/>
<circle cx="1210.3" cy="858.0" r="4.1"/>
<circle cx="1204.7" cy="863.0" r="4.1"/>
<circle cx="1210.1" cy="860.9" r="4.1"/>
<circle cx="1206.6" cy="867.4" r="4.1"/>
<circle cx="1212.2" cy="855.9" r="4.1"/>
<circle cx="1204.8" cy="858.8" r="4.1"/>
<circle cx="1208.0" cy="867.7" r="4.1"/>
<circle cx="1206.1" cy="870.7" r="4.1"/>
<circle cx="1210.6" cy="863.1" r="4.1"/>
<circle cx="1206.2" cy="875.2" r="4.1"/>
<circle cx="1207.1" cy="871.3" r="4.1"/>
<circle cx="1206.4" cy="855.8" r="4.1"/>
<circle cx="1210.8" cy="857.7" r="4.1"/>
<circle cx="1212.4" cy="862.9" r="4.1"/>
<circle cx="1206.1" cy="855.8" r="4.1"/>
<circle cx="1208.0" cy="867.3" r="4.1"/>
<circle cx="1212.4" cy="853.8" r="4.1"/>
<circle cx="1207.8" cy="855.5" r="4.1"/>
<circle cx="1212.6" cy="853.7" r="4.1"/>
<circle cx="1204.9" cy="851.6" r="4.1"/>
<circle cx="1207.8" cy="873.4" r="4.1"/>
<circle cx="1211.8" cy="869.1" r="4.1"/>
<circle cx="1212.8" cy="874.2" r="4.1"/>
<circle cx="1207.2" cy="854.8" r="4.1"/>
<circle cx="1212.3" cy="869.4" r="4.1"/>
<circle cx="1204.8" cy="867.3" r="4.1"/>
<circle cx="1207.6" cy="859.7" r="4.1"/>
<circle cx="1207.3" cy="854.4" r="4.1"/>
<circle cx="1204.5" cy="857.3" r="4.1"/>
<circle cx="1207.4" cy="874.8" r="4.1"/>
<circle cx="1205.5" cy="875.1" r="4.1"/>
<circle cx="1206.2" cy="859.3" r="4.1"/>
<circle cx="1211.3" cy="871.4" r="4.1"/>
<circle cx="1208.1" cy="851.3" r="4.1"/>
<circle cx="1208.4" cy="859.7" r="4.1"/>
<circle cx="1212.1" cy="855.0" r="4.1"/>
<circle cx="1207.5" cy="873.3" r="4.1"/>
<circle cx="1204.8" cy="860.7" r="4.1"/>
<circle cx="1204.5" cy="854.0" r="4.1"/>
<circle cx="1204.5" cy="857.0" r="4.1"/>
<circle cx="1204.0" cy="860.0" r="4.1"/>
<circle cx="1204.0" cy="863.0" r="4.1"/>
<circle cx="1204.0" cy="866.0" r="4.1"/>
<circle cx="1204.6" cy="869.0" r="4.1"/>
<circle cx="1204.2" cy="872.0" r="4.1"/>
<circle cx="1204.4" cy="875.0" r="4.1"/>
<circle cx="1213.1" cy="852.0" r="4.1"/>
<circle cx="1212.8" cy="855.0" r="4.1"/>
<circle cx="1212.8" cy="858.0" r="4.1"/>
<circle cx="1213.2" cy="861.0" r="4.1"/>
<circle cx="1213.0" cy="864.0" r="4.1"/>
<circle cx="1212.8" cy="867.0" r="4.1"/>
<circle cx="1213.0" cy="870.0" r="4.1"/>
<circle cx="1212.8" cy="873.0" r="4.1"/>
<circle cx="1212.8" cy="876.0" r="4.1"/>
<circle cx="1202.1" cy="846.0" r="4.1"/>
<circle cx="1202.6" cy="849.0" r="4.1"/>
<circle cx="1202.6" cy="852.0" r="4.1"/>
<circle cx="1202.5" cy="855.0" r="4.1"/>
<circle cx="1202.7" cy="858.0" r="4.1"/>
<circle cx="1207.0" cy="879.0" r="4.1"/>
<circle cx="1209.5" cy="877.5" r="4.1"/>
<circle cx="1211.5" cy="877.0" r="4.1"/>
<circle cx="1860.6" cy="572.1" r="4.1"/>
<circle cx="1860.6" cy="598.9" r="4.1"/>
<circle cx="1860.3" cy="613.0" r="4.1"/>
<circle cx="1860.9" cy="623.0" r="4.1"/>
<circle cx="1862.7" cy="653.1" r="4.1"/>
<circle cx="1853.1" cy="658.0" r="4.1"/>
<circle cx="1860.9" cy="658.0" r="4.1"/>
<circle cx="1860.3" cy="667.0" r="4.1"/>
<circle cx="1853.9" cy="687.8" r="4.1"/>
<circle cx="1854.3" cy="695.4" r="4.1"/>
<circle cx="1857.3" cy="693.5" r="4.1"/>
<circle cx="1854.9" cy="729.5" r="4.1"/>
<circle cx="1859.0" cy="626.0" r="4.1"/>
<circle cx="1857.0" cy="658.5" r="4.1"/>
<circle cx="1855.0" cy="656.0" r="4.1"/>
<circle cx="1858.6" cy="635.3" r="4.1"/>
<circle cx="1859.8" cy="654.8" r="4.1"/>
<circle cx="1861.1" cy="639.4" r="4.1"/>
<circle cx="1859.2" cy="640.6" r="4.1"/>
<circle cx="1859.8" cy="654.1" r="4.1"/>
<circle cx="1859.0" cy="650.7" r="4.1"/>
<circle cx="1860.5" cy="651.2" r="4.1"/>
<circle cx="1860.6" cy="645.4" r="4.1"/>
<circle cx="1859.4" cy="637.6" r="4.1"/>
<circle cx="1859.5" cy="650.1" r="4.1"/>
<circle cx="1858.7" cy="634.3" r="4.1"/>
<circle cx="1860.5" cy="635.7" r="4.1"/>
<circle cx="1858.7" cy="629.9" r="4.1"/>
<circle cx="1860.0" cy="637.8" r="4.1"/>
<circle cx="1861.1" cy="652.9" r="4.1"/>
<circle cx="1861.2" cy="636.2" r="4.1"/>
<circle cx="1858.7" cy="631.6" r="4.1"/>
<circle cx="1859.8" cy="648.2" r="4.1"/>
<circle cx="1859.7" cy="635.3" r="4.1"/>
<circle cx="1859.6" cy="645.7" r="4.1"/>
<circle cx="1860.3" cy="649.2" r="4.1"/>
<circle cx="1860.8" cy="646.9" r="4.1"/>
<circle cx="1858.8" cy="651.7" r="4.1"/>
<circle cx="1859.3" cy="644.3" r="4.1"/>
<circle cx="1859.5" cy="648.9" r="4.1"/>
<circle cx="1859.0" cy="635.7" r="4.1"/>
<circle cx="1859.2" cy="633.1" r="4.1"/>
<circle cx="1860.9" cy="644.6" r="4.1"/>
<circle cx="1859.4" cy="639.7" r="4.1"/>
<circle cx="1861.2" cy="642.7" r="4.1"/>
<circle cx="1859.1" cy="650.8" r="4.1"/>
<circle cx="1860.3" cy="655.8" r="4.1"/>
<circle cx="1858.8" cy="641.8" r="4.1"/>
<circle cx="1860.7" cy="651.7" r="4.1"/>
<circle cx="1861.0" cy="630.1" r="4.1"/>
<circle cx="1859.3" cy="632.2" r="4.1"/>
<circle cx="1859.0" cy="655.3" r="4.1"/>
<circle cx="1860.1" cy="654.1" r="4.1"/>
<circle cx="1859.5" cy="652.4" r="4.1"/>
<circle cx="1859.7" cy="636.0" r="4.1"/>
<circle cx="1858.6" cy="630.0" r="4.1"/>
<circle cx="1858.7" cy="633.0" r="4.1"/>
<circle cx="1858.2" cy="636.0" r="4.1"/>
<circle cx="1858.5" cy="639.0" r="4.1"/>
<circle cx="1858.5" cy="642.0" r="4.1"/>
<circle cx="1858.2" cy="645.0" r="4.1"/>
<circle cx="1858.3" cy="648.0" r="4.1"/>
<circle cx="1858.2" cy="651.0" r="4.1"/>
<circle cx="1858.2" cy="654.0" r="4.1"/>
<circle cx="1861.1" cy="628.0" r="4.1"/>
<circle cx="1861.3" cy="631.0" r="4.1"/>
<circle cx="1861.3" cy="634.0" r="4.1"/>
<circle cx="1861.0" cy="637.0" r="4.1"/>
<circle cx="1860.9" cy="640.0" r="4.1"/>
<circle cx="1861.1" cy="643.0" r="4.1"/>
<circle cx="1861.3" cy="646.0" r="4.1"/>
<circle cx="1861.0" cy="649.0" r="4.1"/>
</g>
<path d="M1187.5 843.7H1228.4M1208.4 822.8V864.3" stroke="#000" stroke-width="4.2" fill="none"/>
<line x1="304.20" y1="1137.45" x2="2112.50" y2="548.04" stroke="#00ff00" stroke-width="2.3"/>
<line x1="304.20" y1="1131.71" x2="2112.50" y2="535.80" stroke="#0000ff" stroke-width="2.3"/>
<line x1="304.20" y1="1142.01" x2="2112.50" y2="558.26" stroke="#ff0000" stroke-width="2.3"/>
</g>
<g stroke="#262626" stroke-width="2.1" fill="none" stroke-linecap="round" stroke-linejoin="round">
<rect x="304.5" y="129.4" width="1808.0" height="1429.1"/>
<path d="M386.5 1558.5v-18.3M386.5 129.4v18.3M550.5 1558.5v-18.3M550.5 129.4v18.3M715.5 1558.5v-18.3M715.5 129.4v18.3M879.5 1558.5v-18.3M879.5 129.4v18.3M1043.5 1558.5v-18.3M1043.5 129.4v18.3M1208.5 1558.5v-18.3M1208.5 129.4v18.3M1372.5 1558.5v-18.3M1372.5 129.4v18.3M1537.5 1558.5v-18.3M1537.5 129.4v18.3M1701.5 1558.5v-18.3M1701.5 129.4v18.3M1865.5 1558.5v-18.3M1865.5 129.4v18.3M2030.5 1558.5v-18.3M2030.5 129.4v18.3M304.5 1558.5h18.3M2112.5 1558.5h-18.3M304.5 1379.5h18.3M2112.5 1379.5h-18.3M304.5 1201.5h18.3M2112.5 1201.5h-18.3M304.5 1022.5h18.3M2112.5 1022.5h-18.3M304.5 843.5h18.3M2112.5 843.5h-18.3M304.5 665.5h18.3M2112.5 665.5h-18.3M304.5 486.5h18.3M2112.5 486.5h-18.3M304.5 307.5h18.3M2112.5 307.5h-18.3M304.5 129.5h18.3M2112.5 129.5h-18.3"/>
</g>
<g fill="#262626" font-size="41.67">
<text x="384.6" y="1617.1" text-anchor="middle">-50</text>
<text x="548.6" y="1617.1" text-anchor="middle">-40</text>
<text x="713.6" y="1617.1" text-anchor="middle">-30</text>
<text x="877.6" y="1617.1" text-anchor="middle">-20</text>
<text x="1041.6" y="1617.1" text-anchor="middle">-10</text>
<text x="1207.0" y="1617.1" text-anchor="middle">0</text>
<text x="1371.7" y="1617.1" text-anchor="middle">10</text>
<text x="1536.7" y="1617.1" text-anchor="middle">20</text>
<text x="1700.7" y="1617.1" text-anchor="middle">30</text>
<text x="1864.7" y="1617.1" text-anchor="middle">40</text>
<text x="2029.7" y="1617.1" text-anchor="middle">50</text>
<text x="284.9" y="1573.4" text-anchor="end">-40</text>
<text x="284.9" y="1394.4" text-anchor="end">-30</text>
<text x="284.9" y="1216.4" text-anchor="end">-20</text>
<text x="284.9" y="1037.4" text-anchor="end">-10</text>
<text x="284.9" y="858.4" text-anchor="end">0</text>
<text x="286.7" y="680.4" text-anchor="end">10</text>
<text x="286.7" y="501.4" text-anchor="end">20</text>
<text x="286.7" y="322.4" text-anchor="end">30</text>
<text x="286.7" y="144.4" text-anchor="end">40</text>
</g>
<text transform="translate(192 924.80) rotate(-90)" font-size="46" fill="#262626">Roll [<tspan dx="3.7">°</tspan><tspan dx="0.9">]</tspan></text>
<rect x="337.5" y="1250.4" width="279" height="275.2" fill="none" stroke="#262626" stroke-width="2.1"/>
<circle cx="416.5" cy="1283.3" r="4.3" fill="#0000ff"/>
<circle cx="416.5" cy="1335.7" r="4.3" fill="#ff0000"/>
<line x1="354.4" y1="1387.6" x2="479.2" y2="1387.6" stroke="#00ff00" stroke-width="2.1"/>
<line x1="354.4" y1="1439.7" x2="479.2" y2="1439.7" stroke="#0000ff" stroke-width="2.1"/>
<line x1="354.4" y1="1491.9" x2="479.2" y2="1491.9" stroke="#ff0000" stroke-width="2.1"/>
<text x="589.20" y="104.2" font-size="50" fill="#000" font-weight="bold" textLength="1235.04" lengthAdjust="spacing">p5580122: PICCOLO 17-Feb-2024 11:41:27Z</text>
<text x="483.40" y="208" font-size="42" fill="#000">C</text>
<text x="511.80" y="228.5" font-size="33.3" fill="#000" textLength="86.35" lengthAdjust="spacing">ROLL</text>
<text x="601.00" y="208" font-size="42" fill="#000" textLength="140.88" lengthAdjust="spacing">=2095</text>
<text x="1028.60" y="212.7" font-size="42" fill="#000">C</text>
<text x="1058.60" y="192.3" font-size="33.3" fill="#000" textLength="70.28" lengthAdjust="spacing">dive</text>
<text x="1058.00" y="232.9" font-size="33.3" fill="#000" textLength="86.15" lengthAdjust="spacing">ROLL</text>
<text x="1159.40" y="212.7" font-size="42" fill="#000" textLength="140.88" lengthAdjust="spacing">=2260</text>
<text x="1571.60" y="212.7" font-size="42" fill="#000">C</text>
<text x="1600.80" y="192.4" font-size="33.3" fill="#000" textLength="89.09" lengthAdjust="spacing">climb</text>
<text x="1600.60" y="232.9" font-size="33.3" fill="#000" textLength="85.65" lengthAdjust="spacing">ROLL</text>
<text x="1704.40" y="212.7" font-size="42" fill="#000" textLength="142.28" lengthAdjust="spacing">=1930</text>
<text x="482.9 511.9 537.4 549.0 560.6 573.9 596.9 622.5 649.0 665.4 682.5 708.1 719.7 733.0 750.1 775.6 802.0 828.4 854.0 867.3 901.9 917.0 943.5 970.0 983.3 1009.8 1036.3 1062.8 1089.0 1102.1 1118.4 1143.8 1170.4 1197.0 1210.2 1236.8 1263.4 1290.0 1318.9 1333.3" y="288.3" font-size="42" fill="#000">Roll control range =-52.7801 to49.0202 °</text>
<text x="483.60" y="350" font-size="42" fill="#000" textLength="196.58" lengthAdjust="spacing">Implied C</text>
<text x="682.60" y="370.6" font-size="33.3" fill="#000" textLength="86.65" lengthAdjust="spacing">ROLL</text>
<text x="784.00" y="350" font-size="42" fill="#000" textLength="259.53" lengthAdjust="spacing">=2088.3725</text>
<text x="1029.00" y="354.1" font-size="42" fill="#000" textLength="197.08" lengthAdjust="spacing">Implied C</text>
<text x="1228.80" y="333.7" font-size="33.3" fill="#000">dive</text>
<text x="1228.20" y="374" font-size="33.3" fill="#000" textLength="86.45" lengthAdjust="spacing">ROLL</text>
<text x="1330.60" y="354.1" font-size="42" fill="#000" textLength="232.39" lengthAdjust="spacing">=2194.734</text>
<text x="1570.80" y="354.1" font-size="42" fill="#000" textLength="196.38" lengthAdjust="spacing">Implied C</text>
<text x="1771.60" y="333.7" font-size="33.3" fill="#000">climb</text>
<text x="1771.40" y="374" font-size="33.3" fill="#000">ROLL</text>
<text x="1875.60" y="354.1" font-size="42" fill="#000" textLength="260.83" lengthAdjust="spacing">=1972.5432</text>
<text x="483.6 495.9 536.5 563.0 574.6 586.1 611.8 638.2 651.5 668.5 693.8 705.3 716.8 729.9 752.9 778.5 805.1 821.5 838.7 864.3 876.0 889.3 906.4 931.9 958.2 984.7 1010.3 1023.5 1058.4 1072.6 1099.2 1125.8 1139.0 1165.6 1192.2 1218.8 1245.2 1258.4 1274.5 1299.8 1326.4 1352.9 1366.2 1392.8 1419.4 1446.0 1474.0 1488.1" y="433.2" font-size="42" fill="#000">Implied roll control range =-52.5927 to49.2075 °</text>
<text x="484.0 512.4 534.0 555.6 581.9 622.3 647.9 674.2 687.4 704.5 729.9 741.5 753.1 766.3 789.3 814.9 841.5 857.9 875.1 900.7 912.3 925.6 951.8 977.0 988.5 1014.6 1027.7 1062.4 1089.1 1115.8 1129.2 1155.9 1182.6 1209.3 1236.0 1249.4 1265.3 1288.4 1314.1 1340.7 1367.3 1383.8 1405.7 1421.2 1441.8 1454.9 1471.3 1496.9 1510.2 1532.0 1548.4 1574.9 1601.5" y="504.4" font-size="42" fill="#000">Assumed roll control gain =35.3732 [counts/° to stbd]</text>
<text x="758.0 787.0 812.6 824.2 835.8 849.1 867.2 886.5 903.1 916.7 951.9 978.4 991.7 1018.2 1044.8 1071.3 1097.8 1124.4 1155.7 1175.8 1188.6 1223.8 1237.2 1265.7 1290.9 1302.3 1313.7 1326.7 1355.9 1381.5 1408.0 1424.4 1441.5 1467.1 1478.8 1492.1 1508.2 1528.5 1544.5 1557.5 1578.5 1605.1 1618.3 1644.9 1671.5 1698.1 1724.7" y="1375.4" font-size="42" fill="#000">Roll [°] =0.056198° + Roll Control [°] *0.29995</text>
<text x="758.00" y="1454.6" font-size="42" fill="#000">Roll</text>
<text x="837.20" y="1475.5" font-size="33.3" fill="#000" textLength="70.28" lengthAdjust="spacing">dive</text>
<text x="921.6 942.2 961.9 978.8 992.5 1026.9 1053.4 1066.7 1093.2 1119.7 1146.2 1172.7 1200.3 1220.7 1233.7 1268.6 1281.9 1311.2 1337.0 1348.7 1360.4 1373.9 1402.8 1428.2 1454.5 1470.7 1487.8 1513.1 1524.8 1538.1 1554.5 1574.5 1590.9 1604.3 1624.3 1651.0 1664.3 1691.1 1717.8 1744.5 1771.2" y="1454.6" font-size="42" fill="#000">[°] =0.55953° + Roll Control [°] *0.30326</text>
<text x="758.00" y="1538.3" font-size="42" fill="#000">Roll</text>
<text x="837.20" y="1559.0" font-size="33.3" fill="#000" textLength="90.29" lengthAdjust="spacing">climb</text>
<text x="942.0 962.2 982.6 999.4 1013.1 1047.9 1062.9 1089.3 1102.5 1129.0 1155.4 1181.8 1208.2 1236.3 1257.2 1270.5 1306.4 1320.0 1348.8 1374.1 1385.6 1397.1 1410.2 1439.3 1464.8 1491.3 1507.6 1524.8 1550.3 1562.0 1575.3 1591.1 1612.1 1629.0 1642.8 1663.2 1689.5 1702.6 1728.9 1755.2 1781.5 1807.8" y="1538.3" font-size="42" fill="#000">[°] =-0.35728° + Roll Control [°] *0.29707</text>
<text x="303.20" y="1716.1" font-size="42" fill="#000" textLength="467.18" lengthAdjust="spacing">17-Feb-2024 14:11:13</text>
<text x="1032.6 1064.6 1092.7 1105.5 1118.3 1132.9 1165.0 1193.2 1222.3 1240.3 1259.3 1287.4 1299.9 1314.3 1334.0 1358.5" y="1679.1" font-size="46" fill="#262626">Roll Control [°]</text>
<text x="491.80" y="1295.2" font-size="37.2" fill="#000">Dive</text>
<text x="492.60" y="1347.5" font-size="37.2" fill="#000">Climb</text>
<text x="492.40" y="1399.5" font-size="37.2" fill="#000">data1</text>
<text x="492.40" y="1451.5" font-size="37.2" fill="#000">data2</text>
<text x="492.40" y="1503.2" font-size="37.2" fill="#000">data3</text>
</svg>
</body></html>
